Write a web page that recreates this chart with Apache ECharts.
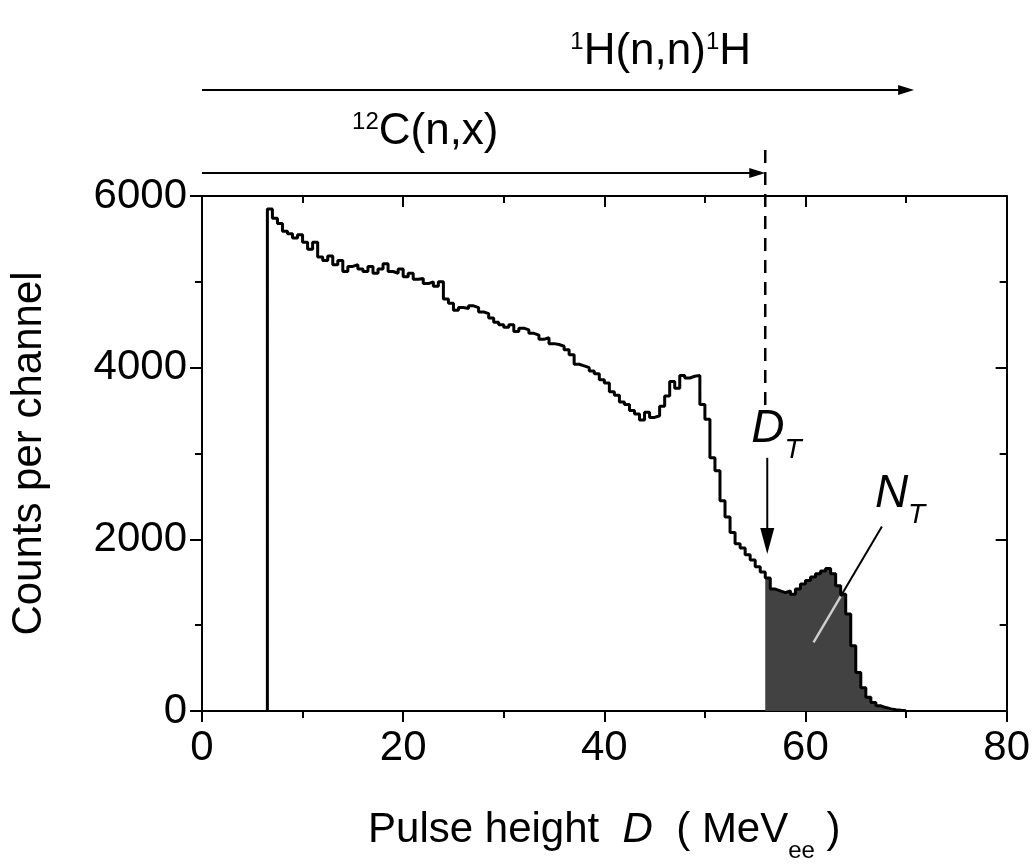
<!DOCTYPE html>
<html><head><meta charset="utf-8">
<script src="https://cdn.jsdelivr.net/npm/echarts@6/dist/echarts.min.js"></script>
<style>html,body{margin:0;padding:0;background:#fff}#c{width:1033px;height:868px}</style>
</head><body><div id="c"></div>
<script>
// Channel left edges (MeVee)
const channelD = [6.5,7,7.5,8,8.5,9,9.5,10,10.5,11,11.5,12,12.5,13,13.5,14,14.5,15,15.5,16,16.5,17,17.5,18,18.5,19,19.5,20,20.5,21,21.5,22,22.5,23,23.5,24,24.5,25,25.5,26,26.5,27,27.5,28,28.5,29,29.5,30,30.5,31,31.5,32,32.5,33,33.5,34,34.5,35,35.5,36,36.5,37,37.5,38,38.5,39,39.5,40,40.5,41,41.5,42,42.5,43,43.5,44,44.5,45,45.5,46,46.5,47,47.5,48,48.5,49,49.5,50,50.5,51,51.5,52,52.5,53,53.5,54,54.5,55,55.5,56,56.5,57,57.5,58,58.5,59,59.5,60,60.5,61,61.5,62,62.5,63,63.5,64,64.5,65,65.5,66,66.5,67,67.5,68,68.5,69,69.5];
// Counts per channel
const counts = [5850,5740,5680,5590,5560,5510,5550,5460,5380,5460,5290,5250,5300,5200,5250,5120,5180,5200,5150,5120,5180,5100,5150,5210,5120,5100,5150,5060,5100,5030,5040,4980,5000,4950,5000,4800,4750,4670,4700,4690,4720,4700,4650,4630,4580,4530,4500,4470,4500,4420,4460,4440,4400,4380,4330,4350,4280,4270,4250,4210,4150,4040,4020,4000,3960,3930,3860,3820,3720,3680,3600,3570,3500,3460,3390,3480,3420,3440,3550,3670,3840,3760,3910,3880,3900,3910,3570,3400,2950,2800,2450,2260,2080,1950,1900,1820,1760,1680,1620,1550,1420,1400,1380,1400,1360,1420,1480,1520,1560,1600,1630,1660,1600,1460,1360,1130,760,450,270,160,100,60,40,25,15,8,4];
const lastEdgeD = 70;
const thresholdD = 56;   // D_T
const xTicks = [0, 20, 40, 60, 80];
const yTicks = [0, 2000, 4000, 6000];

const FONT = "'Liberation Sans Narrow','Arial Narrow','Liberation Sans',Arial,sans-serif";

const mainData = [[channelD[0], 0]];
channelD.forEach((d, i) => mainData.push([d, counts[i]]));
mainData.push([lastEdgeD, 0]);
const tailData = [];
channelD.forEach((d, i) => { if (d >= thresholdD) tailData.push([d, counts[i]]); });
tailData.push([lastEdgeD, 0]);

const chart = echarts.init(document.getElementById('c'), null, {renderer: 'canvas'});
const axisLine = {show: true, onZero: false, lineStyle: {color: '#000', width: 2}};
chart.setOption({
  animation: false,
  backgroundColor: '#fff',
  grid: {left: 197, right: 25, top: 196, bottom: 141, containLabel: false},
  xAxis: [{
    type: 'value', min: xTicks[0], max: xTicks[xTicks.length - 1], interval: 20,
    axisLine: axisLine,
    axisTick: {show: true, inside: false, length: 11, lineStyle: {color: '#000', width: 2}},
    minorTick: {show: true, splitNumber: 2, length: 7, lineStyle: {color: '#000', width: 2}},
    splitLine: {show: false},
    axisLabel: {color: '#000', fontSize: 42, fontFamily: FONT, margin: 16, formatter: v => String(v)},
    name: '{n|Pulse height  }{i|D}{n|  ( MeV}{sub|ee}{n| )}',
    nameLocation: 'middle', nameGap: 98,
    nameTextStyle: {rich: {
      n: {fontSize: 42, fontFamily: FONT, color: '#000', lineHeight: 44, verticalAlign: 'top'},
      i: {fontSize: 42, fontFamily: FONT, fontStyle: 'italic', color: '#000', lineHeight: 44, verticalAlign: 'top'},
      sub: {fontSize: 24, fontFamily: FONT, color: '#000', lineHeight: 24, padding: [30, 0, 0, 0], verticalAlign: 'top'}
    }}
  }, {
    type: 'value', position: 'top', min: xTicks[0], max: xTicks[xTicks.length - 1], interval: 20,
    axisLine: axisLine,
    axisTick: {show: true, inside: true, length: 11, lineStyle: {color: '#000', width: 2}},
    minorTick: {show: true, splitNumber: 2, length: 7, lineStyle: {color: '#000', width: 2}},
    splitLine: {show: false}, axisLabel: {show: false}
  }],
  yAxis: [{
    type: 'value', min: yTicks[0], max: yTicks[yTicks.length - 1], interval: 2000,
    axisLine: axisLine,
    axisTick: {show: true, inside: false, length: 12, lineStyle: {color: '#000', width: 2}},
    minorTick: {show: true, splitNumber: 2, length: 7, lineStyle: {color: '#000', width: 2}},
    splitLine: {show: false},
    axisLabel: {color: '#000', fontSize: 42, fontFamily: FONT, margin: 15, formatter: v => String(v)},
    name: 'Counts per channel', nameLocation: 'middle', nameGap: 152, nameRotate: 90,
    nameTextStyle: {color: '#000', fontSize: 42, fontFamily: FONT}
  }, {
    type: 'value', position: 'right', min: yTicks[0], max: yTicks[yTicks.length - 1], interval: 2000,
    axisLine: axisLine,
    axisTick: {show: true, inside: true, length: 11, lineStyle: {color: '#000', width: 2}},
    minorTick: {show: true, splitNumber: 2, length: 7, lineStyle: {color: '#000', width: 2}},
    splitLine: {show: false}, axisLabel: {show: false}
  }],
  series: [{
    name: 'NT', type: 'line', step: 'end', data: tailData, symbol: 'none', z: 2,
    lineStyle: {width: 0}, areaStyle: {color: '#424242', opacity: 1}
  }, {
    name: 'spectrum', type: 'line', step: 'end', data: mainData, symbol: 'none', z: 3,
    lineStyle: {color: '#000', width: 3}
  }]
});

const P = (d, c) => chart.convertToPixel({xAxisIndex: 0, yAxisIndex: 0}, [d, c]);
const x0 = P(0, 0)[0];
const xT = P(thresholdD, 0)[0];
const xEnd = P(70.8, 0)[0];
const stroke = {stroke: '#000', lineWidth: 2};
function hArrow(xa, xb, y, len, hw) {
  return [
    {type: 'line', shape: {x1: xa, y1: y, x2: xb - len + 2, y2: y}, style: stroke},
    {type: 'polygon', shape: {points: [[xb, y], [xb - len, y - hw], [xb - len, y + hw]]}, style: {fill: '#000'}}
  ];
}
const top1 = 90, top2 = 173;
const dtTop = P(56.2, 2950), dtTip = P(56.2, 1830);
const ntA = P(67.6, 2150), ntB = P(60.8, 800), ntIn = P(63.5, 1336);
const dashEnd = P(thresholdD, 3550);
const dLabel = P(54.6, 3280);
const nLabel = P(66.9, 2520);
const supRich = {
  n: {fontSize: 44, fontFamily: FONT, fill: '#000', lineHeight: 44, verticalAlign: 'bottom'},
  s: {fontSize: 24, fontFamily: FONT, fill: '#000', lineHeight: 24, verticalAlign: 'top'}
};
const subRich = {
  n: {fontSize: 46, fontFamily: FONT, fontStyle: 'italic', fill: '#000', lineHeight: 46, verticalAlign: 'top'},
  s: {fontSize: 28, fontFamily: FONT, fontStyle: 'italic', fill: '#000', lineHeight: 28, padding: [30, 0, 0, 0], verticalAlign: 'top'}
};
const elements = [].concat(
  hArrow(x0, xEnd, top1, 16, 5),
  hArrow(x0, xT, top2, 16, 5),
  [
    {type: 'line', shape: {x1: xT, y1: 150, x2: xT, y2: dashEnd[1]}, style: {stroke: '#000', lineWidth: 2.5, lineDash: [13, 9]}},
    {type: 'line', shape: {x1: dtTop[0], y1: dtTop[1], x2: dtTip[0], y2: dtTip[1] - 18}, style: stroke},
    {type: 'polygon', shape: {points: [[dtTip[0], dtTip[1]], [dtTip[0] - 7, dtTip[1] - 26], [dtTip[0] + 7, dtTip[1] - 26]]}, style: {fill: '#000'}},
    {type: 'line', shape: {x1: ntA[0], y1: ntA[1], x2: ntB[0], y2: ntB[1]}, style: stroke},
    {type: 'line', shape: {x1: ntIn[0], y1: ntIn[1], x2: ntB[0], y2: ntB[1]}, style: {stroke: '#cfcfcf', lineWidth: 2.5}},
    {type: 'text', x: P(45.6, 0)[0], y: 52, style: {text: '{s|1}{n|H(n,n)}{s|1}{n|H}', rich: supRich, align: 'center', verticalAlign: 'middle'}},
    {type: 'text', x: P(22.2, 0)[0], y: 132, style: {text: '{s|12}{n|C(n,x)}', rich: supRich, align: 'center', verticalAlign: 'middle'}},
    {type: 'text', x: dLabel[0], y: dLabel[1], style: {text: '{n|D}{s|T}', rich: subRich, align: 'left', verticalAlign: 'middle'}},
    {type: 'text', x: nLabel[0], y: nLabel[1], style: {text: '{n|N}{s|T}', rich: subRich, align: 'left', verticalAlign: 'middle'}}
  ]
);
elements.forEach(el => { el.z = 100; });
chart.setOption({graphic: {elements: elements}});
</script>
</body></html>
